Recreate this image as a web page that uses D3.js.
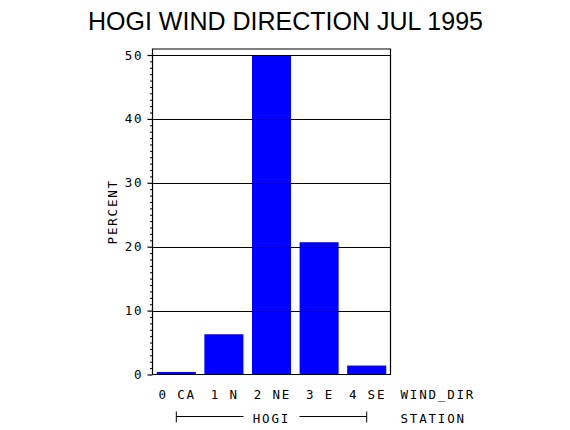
<!DOCTYPE html>
<html><head><meta charset="utf-8">
<script src="https://cdn.jsdelivr.net/npm/d3@7"></script>
<style>body{margin:0;background:#fff}svg{display:block}</style>
</head><body>
<svg id="c" width="570" height="430"></svg>
<script>
const title = "HOGI WIND DIRECTION JUL 1995";
const categories = ["0 CA", "1 N", "2 NE", "3 E", "4 SE"];
const values = [0.4, 6.3, 50.0, 20.7, 1.4];
const majorTicks = [0, 10, 20, 30, 40, 50];
const yLabel = "PERCENT";
const xVarLabel = "WIND_DIR";
const groupLabel = "HOGI";
const groupVarLabel = "STATION";

(function () {
const svg = d3.select("#c");
const pLeft = 152.5, pRight = 390.5, pTop = 49, pBottom = 374.5;
const mono = "'DejaVu Sans Mono', monospace";
const fs = "12.5px";
const ls = 1.8;

const x = d3.scaleBand().domain(categories).range([pLeft, pRight]).paddingInner(0.18).paddingOuter(0.09);
const y = d3.scaleLinear().domain([0, 50]).range([pBottom, 55]);

svg.append("text").attr("x", 285.5).attr("y", 30).attr("text-anchor", "middle")
  .style("font-family", "'Liberation Sans', Arial, sans-serif").style("font-size", "25px")
  .text(title);

// bars
svg.append("g").selectAll("rect").data(values).join("rect")
  .attr("x", (d, i) => x(categories[i]))
  .attr("width", x.bandwidth())
  .attr("y", d => y(d))
  .attr("height", d => y(0) - y(d))
  .attr("fill", "#0000ff");

// gridlines
svg.append("g").selectAll("line").data(majorTicks.filter(d => d > 0)).join("line")
  .attr("x1", pLeft).attr("x2", pRight).attr("y1", d => Math.round(y(d)) + 0.5).attr("y2", d => Math.round(y(d)) + 0.5)
  .attr("stroke", "#000").attr("stroke-width", 1.2);

// frame
svg.append("path")
  .attr("d", `M${pLeft},${pBottom}V${pTop}H${pRight}V${pBottom}H${pLeft}`)
  .attr("fill", "none").attr("stroke", "#000").attr("stroke-width", 1.2);

// y axis
const yAxis = d3.axisLeft(y).tickValues(majorTicks).tickSize(5).tickFormat("");
const gy = svg.append("g").attr("transform", `translate(${pLeft},0)`).call(yAxis);
gy.select(".domain").remove();
gy.selectAll("line").attr("stroke-width", 1.2);
const minor = d3.range(0, 51).filter(d => d % 10 !== 0);
svg.append("g").attr("transform", `translate(${pLeft},0)`)
  .call(d3.axisLeft(y).tickValues(minor).tickSize(2.5).tickFormat(""))
  .call(g => g.select(".domain").remove());

svg.append("g").selectAll("text").data(majorTicks).join("text")
  .attr("x", 141.5 + ls).attr("y", d => y(d) + 4.5).attr("text-anchor", "end")
  .style("font-family", mono).style("font-size", fs).style("letter-spacing", ls + "px")
  .text(d => d);

// y label
svg.append("text").attr("transform", `translate(116.5,${(pTop + pBottom) / 2}) rotate(-90)`)
  .attr("text-anchor", "middle")
  .style("font-family", mono).style("font-size", fs).style("letter-spacing", ls + "px")
  .text(yLabel);

// x category labels
svg.append("g").selectAll("text").data(categories).join("text")
  .attr("x", d => x(d) + x.bandwidth() / 2 + ls / 2).attr("y", 399).attr("text-anchor", "middle")
  .style("font-family", mono).style("font-size", fs).style("letter-spacing", ls + "px")
  .text(d => d);

svg.append("text").attr("x", 400.5).attr("y", 399)
  .style("font-family", mono).style("font-size", fs).style("letter-spacing", ls + "px")
  .text(xVarLabel);

// group bracket
const gx1 = x(categories[0]) + x.bandwidth() / 2;
const gx2 = x(categories[categories.length - 1]) + x.bandwidth() / 2;
const gmid = (gx1 + gx2) / 2;
const by = 416.5;
const br = svg.append("g").attr("stroke", "#000").attr("stroke-width", 1);
br.append("line").attr("x1", gx1).attr("x2", gmid - 28).attr("y1", by).attr("y2", by);
br.append("line").attr("x1", gmid + 28).attr("x2", gx2).attr("y1", by).attr("y2", by);
br.append("line").attr("x1", gx1).attr("x2", gx1).attr("y1", by - 5).attr("y2", by + 6);
br.append("line").attr("x1", gx2).attr("x2", gx2).attr("y1", by - 5).attr("y2", by + 6);
svg.append("text").attr("x", gmid - 1 + ls / 2).attr("y", 423).attr("text-anchor", "middle")
  .style("font-family", mono).style("font-size", fs).style("letter-spacing", ls + "px")
  .text(groupLabel);
svg.append("text").attr("x", 400.5).attr("y", 423)
  .style("font-family", mono).style("font-size", fs).style("letter-spacing", ls + "px")
  .text(groupVarLabel);
})();
</script>
</body></html>
